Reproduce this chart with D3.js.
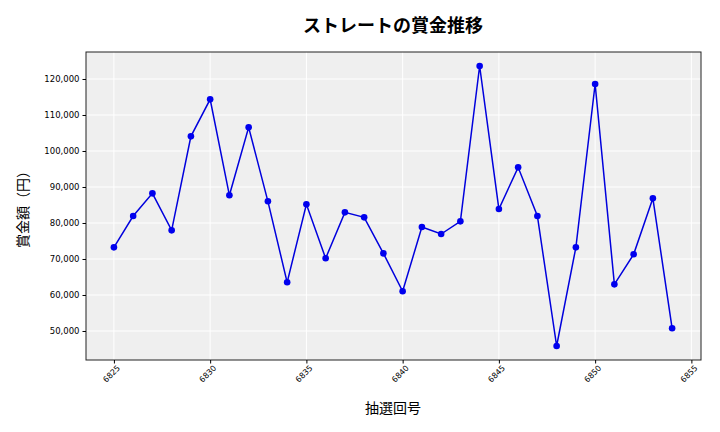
<!DOCTYPE html>
<html><head><meta charset="utf-8">
<script src="https://cdn.jsdelivr.net/npm/d3@7"></script>
<style>body{margin:0;background:#fff;font-family:"Noto Sans CJK JP","DejaVu Sans",sans-serif;}</style>
</head><body><svg id="c" width="720" height="432"></svg>
<script>
var draws = d3.range(6825, 6855);
var prizes = [73240, 81940, 88240, 77960, 104070, 114350, 87690, 106570, 86020, 63520,
  85190, 70190, 82960, 81570, 71570, 61020, 78890, 76940, 80460, 123610,
  83890, 95460, 81940, 45830, 73240, 118610, 62960, 71300, 86850, 50740];
var xTicks = [6825, 6830, 6835, 6840, 6845, 6850, 6855];
var yTicks = [50000, 60000, 70000, 80000, 90000, 100000, 110000, 120000];

var plotL = 86, plotR = 701, plotT = 52, plotB = 360;
var svg = d3.select("#c");
var x = d3.scaleLinear().domain([6823.55, 6855.5]).range([plotL, plotR]);
var y = d3.scaleLinear().domain([41940, 127500]).range([plotB, plotT]);

svg.append("rect").attr("x", plotL).attr("y", plotT).attr("width", plotR - plotL)
  .attr("height", plotB - plotT).attr("fill", "#efefef");

svg.append("g").selectAll("line").data(xTicks).enter().append("line")
  .attr("x1", d => x(d)).attr("x2", d => x(d)).attr("y1", plotT).attr("y2", plotB)
  .attr("stroke", "#fff").attr("stroke-width", 1);
svg.append("g").selectAll("line").data(yTicks).enter().append("line")
  .attr("y1", d => y(d)).attr("y2", d => y(d)).attr("x1", plotL).attr("x2", plotR)
  .attr("stroke", "#fff").attr("stroke-width", 1);

var line = d3.line().x((d, i) => x(draws[i])).y(d => y(d));
svg.append("path").datum(prizes).attr("d", line).attr("fill", "none")
  .attr("stroke", "#0000dd").attr("stroke-width", 1.5);
svg.append("g").selectAll("circle").data(prizes).enter().append("circle")
  .attr("cx", (d, i) => x(draws[i])).attr("cy", d => y(d)).attr("r", 3.3).attr("fill", "#0000ee");

svg.append("rect").attr("x", plotL).attr("y", plotT).attr("width", plotR - plotL)
  .attr("height", plotB - plotT).attr("fill", "none").attr("stroke", "#222").attr("stroke-width", 1);

var xa = svg.append("g").attr("transform", "translate(0," + plotB + ")")
  .call(d3.axisBottom(x).tickValues(xTicks).tickSize(3.5).tickFormat(d3.format("d")));
xa.select(".domain").remove();
xa.selectAll("text").attr("font-size", 8).attr("text-anchor", "end")
  .attr("transform", "rotate(-45)").attr("dx", "-0.2em").attr("dy", "0.5em");

var ya = svg.append("g").attr("transform", "translate(" + plotL + ",0)")
  .call(d3.axisLeft(y).tickValues(yTicks).tickSize(3.5).tickFormat(d3.format(",")));
ya.select(".domain").remove();
ya.selectAll("text").attr("font-size", 8.5);
svg.selectAll(".tick text").attr("font-family", "DejaVu Sans").attr("fill", "#000");

svg.append("text").attr("x", 393).attr("y", 32).attr("text-anchor", "middle")
  .attr("font-size", 18).attr("font-weight", "bold").text("ストレートの賞金推移");
svg.append("text").attr("x", 393).attr("y", 413).attr("text-anchor", "middle")
  .attr("font-size", 14).text("抽選回号");
svg.append("text").attr("transform", "translate(28,206) rotate(-90)").attr("text-anchor", "middle")
  .attr("font-size", 14).text("賞金額（円）");
</script></body></html>
